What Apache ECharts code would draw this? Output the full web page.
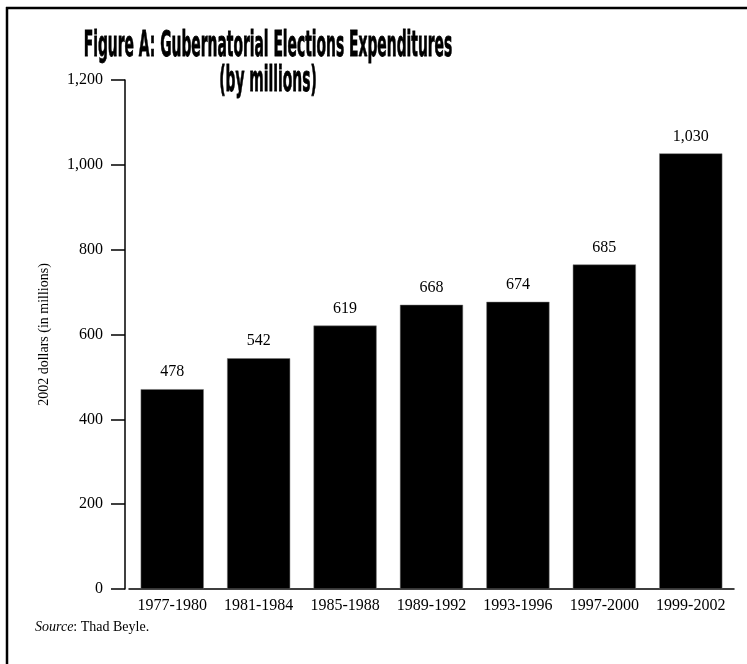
<!DOCTYPE html>
<html>
<head>
<meta charset="utf-8">
<script src="https://cdn.jsdelivr.net/npm/echarts@6/dist/echarts.min.js"></script>
<style>
html,body{margin:0;padding:0;background:#fff;}
#chart{width:747px;height:664px;}
</style>
</head>
<body>
<div id="chart"></div>
<script>
const categories = ['1977-1980','1981-1984','1985-1988','1989-1992','1993-1996','1997-2000','1999-2002'];
const barHeights = [471, 544, 621, 670, 677, 765, 1027];
const valueLabels = ['478','542','619','668','674','685','1,030'];
const yTicks = [0, 200, 400, 600, 800, 1000, 1200];
const titleLine1 = 'Figure A: Gubernatorial Elections Expenditures';
const titleLine2 = '(by millions)';
const yAxisTitle = '2002 dollars (in millions)';

const serif = '"Liberation Serif", "DejaVu Serif", serif';
const chart = echarts.init(document.getElementById('chart'), null, {renderer: 'canvas'});
chart.setOption({
  animation: false,
  backgroundColor: '#fff',
  grid: {left: 129, right: 13, top: 80, bottom: 75, containLabel: false},
  xAxis: {
    type: 'category',
    data: categories,
    axisLine: {lineStyle: {color: '#000', width: 1.5}},
    axisTick: {show: false},
    axisLabel: {color: '#000', fontFamily: serif, fontSize: 16, margin: 9, interval: 0, hideOverlap: false}
  },
  yAxis: {
    type: 'value',
    min: yTicks[0],
    max: yTicks[yTicks.length - 1],
    interval: 200,
    offset: 4,
    name: yAxisTitle,
    nameLocation: 'middle',
    nameGap: 74,
    nameTextStyle: {color: '#000', fontFamily: serif, fontSize: 14},
    axisLine: {show: true, lineStyle: {color: '#000', width: 1.5}},
    axisTick: {show: true, length: 14, lineStyle: {color: '#000', width: 1.5}},
    splitLine: {show: false},
    axisLabel: {
      color: '#000', fontFamily: serif, fontSize: 16, margin: 22,
      formatter: v => v.toLocaleString('en-US')
    }
  },
  series: [{
    type: 'bar',
    data: barHeights,
    barWidth: '73%',
    itemStyle: {color: '#000', borderColor: '#777', borderWidth: 0.5},
    label: {
      show: true, position: 'top', distance: 9,
      color: '#000', fontFamily: serif, fontSize: 16,
      formatter: p => valueLabels[p.dataIndex]
    }
  }],
  graphic: [
    {type: 'line', shape: {x1: 6, y1: 8, x2: 747, y2: 8}, style: {stroke: '#000', lineWidth: 2.5}},
    {type: 'line', shape: {x1: 7, y1: 7, x2: 7, y2: 664}, style: {stroke: '#000', lineWidth: 2.5}},
    {type: 'text', x: 268, y: 47, scaleX: 0.44,
      style: {text: titleLine1, font: 'bold 35px "DejaVu Sans Condensed", "DejaVu Sans", sans-serif', fill: '#000', stroke: '#000', lineWidth: 0.8, textAlign: 'center', textVerticalAlign: 'middle'}},
    {type: 'text', x: 268, y: 82, scaleX: 0.44,
      style: {text: titleLine2, font: 'bold 35px "DejaVu Sans Condensed", "DejaVu Sans", sans-serif', fill: '#000', stroke: '#000', lineWidth: 0.8, textAlign: 'center', textVerticalAlign: 'middle'}},
    {type: 'text', x: 35, y: 627,
      style: {text: '{i|Source}: Thad Beyle.', textVerticalAlign: 'middle',
        rich: {i: {fontStyle: 'italic', fontFamily: serif, fontSize: 14, fill: '#000'}},
        font: '14px "Liberation Serif", serif', fill: '#000'}}
  ]
});
</script>
</body>
</html>
